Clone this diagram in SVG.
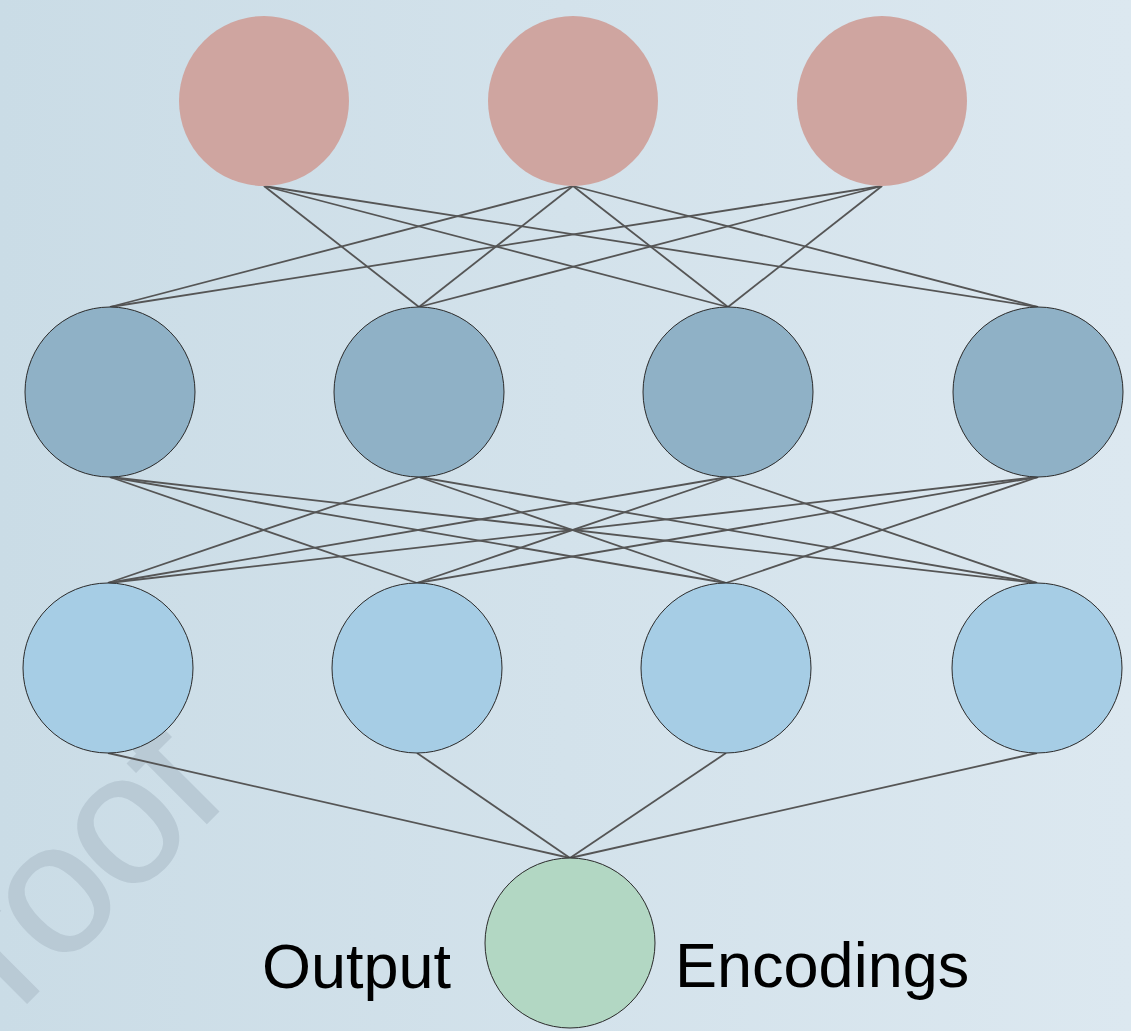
<svg xmlns="http://www.w3.org/2000/svg" width="1131" height="1031" viewBox="0 0 1131 1031">
  <defs>
    <linearGradient id="bg" x1="0" y1="0" x2="1" y2="0">
      <stop offset="0" stop-color="#cadce6"/>
      <stop offset="1" stop-color="#dce8f0"/>
    </linearGradient>
    <style>
      .c { stroke: #555; stroke-width: 1.8; fill: none; }
      .top { fill: #cfa5a0; }
      .h1 { fill: #8fb1c6; stroke: #2a2a2a; stroke-width: 1; }
      .h2 { fill: #a6cde5; stroke: #2a2a2a; stroke-width: 1; }
      .out { fill: #b2d7c3; stroke: #2a2a2a; stroke-width: 1; }
      .lbl { font-family: "Liberation Sans", Arial, sans-serif; font-size: 63px; fill: #000; }
      .wm { font-family: "Liberation Sans", Arial, sans-serif; font-size: 186px; fill: #b9cad5; stroke: #b9cad5; stroke-width: 1.5; letter-spacing: -6px; }
    </style>
  </defs>
  <rect x="0" y="0" width="1131" height="1031" fill="url(#bg)"/>
  <text class="wm" transform="translate(18,1012) rotate(-45)" x="0" y="0">roof</text>

  <g id="connectors">
    <line class="c" x1="264" y1="186" x2="419" y2="307"/>
    <line class="c" x1="264" y1="186" x2="728" y2="307"/>
    <line class="c" x1="264" y1="186" x2="1038" y2="307"/>
    <line class="c" x1="573" y1="186" x2="110" y2="307"/>
    <line class="c" x1="573" y1="186" x2="419" y2="307"/>
    <line class="c" x1="573" y1="186" x2="728" y2="307"/>
    <line class="c" x1="573" y1="186" x2="1038" y2="307"/>
    <line class="c" x1="882" y1="186" x2="110" y2="307"/>
    <line class="c" x1="882" y1="186" x2="419" y2="307"/>
    <line class="c" x1="882" y1="186" x2="728" y2="307"/>

    <line class="c" x1="110" y1="477" x2="417" y2="583"/>
    <line class="c" x1="110" y1="477" x2="726" y2="583"/>
    <line class="c" x1="110" y1="477" x2="1037" y2="583"/>
    <line class="c" x1="419" y1="477" x2="108" y2="583"/>
    <line class="c" x1="419" y1="477" x2="726" y2="583"/>
    <line class="c" x1="419" y1="477" x2="1037" y2="583"/>
    <line class="c" x1="728" y1="477" x2="108" y2="583"/>
    <line class="c" x1="728" y1="477" x2="417" y2="583"/>
    <line class="c" x1="728" y1="477" x2="1037" y2="583"/>
    <line class="c" x1="1038" y1="477" x2="108" y2="583"/>
    <line class="c" x1="1038" y1="477" x2="417" y2="583"/>
    <line class="c" x1="1038" y1="477" x2="726" y2="583"/>

    <line class="c" x1="108" y1="753" x2="570" y2="858"/>
    <line class="c" x1="417" y1="753" x2="570" y2="858"/>
    <line class="c" x1="726" y1="753" x2="570" y2="858"/>
    <line class="c" x1="1037" y1="753" x2="570" y2="858"/>
  </g>

  <g id="in1"><circle class="top" cx="264" cy="101" r="85"/></g>
  <g id="in2"><circle class="top" cx="573" cy="101" r="85"/></g>
  <g id="in3"><circle class="top" cx="882" cy="101" r="85"/></g>

  <g id="h1a"><circle class="h1" cx="110" cy="392" r="85"/></g>
  <g id="h1b"><circle class="h1" cx="419" cy="392" r="85"/></g>
  <g id="h1c"><circle class="h1" cx="728" cy="392" r="85"/></g>
  <g id="h1d"><circle class="h1" cx="1038" cy="392" r="85"/></g>

  <g id="h2a"><circle class="h2" cx="108" cy="668" r="85"/></g>
  <g id="h2b"><circle class="h2" cx="417" cy="668" r="85"/></g>
  <g id="h2c"><circle class="h2" cx="726" cy="668" r="85"/></g>
  <g id="h2d"><circle class="h2" cx="1037" cy="668" r="85"/></g>

  <g id="output"><circle class="out" cx="570" cy="943" r="85"/></g>

  <g id="labels">
    <text class="lbl" x="262" y="988">Output</text>
    <text class="lbl" x="675" y="987">Encodings</text>
  </g>
</svg>
